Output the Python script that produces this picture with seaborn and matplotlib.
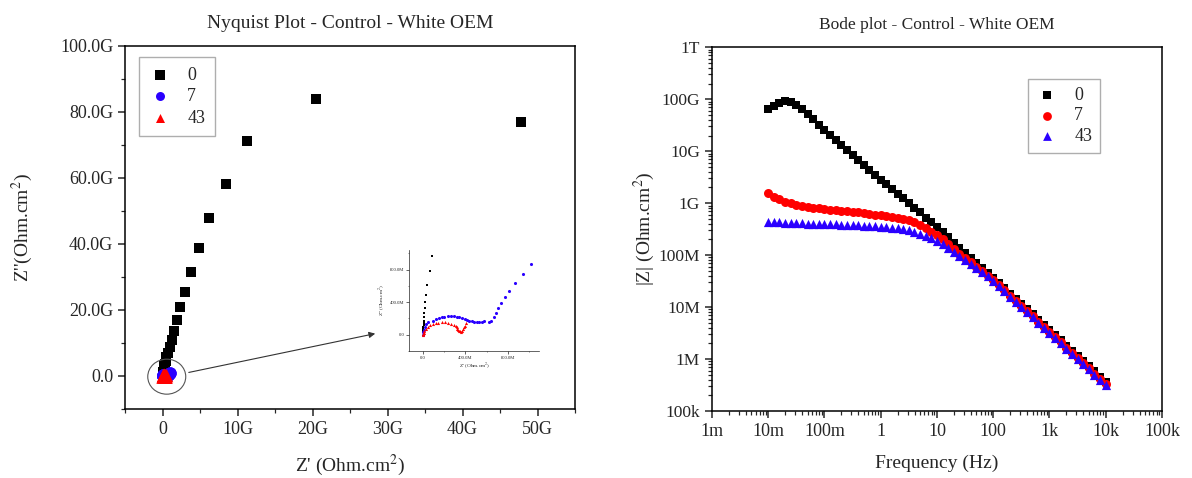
import numpy as np
import pandas as pd
import matplotlib
matplotlib.use("Agg")
import matplotlib.pyplot as plt
import seaborn as sns
from matplotlib.patches import Ellipse
from matplotlib.ticker import MultipleLocator, NullFormatter, LogLocator

sns.set_style("ticks")
plt.rcParams['font.family'] = ['Liberation Serif', 'DejaVu Serif']
plt.rcParams['mathtext.fontset'] = 'stix'

# ---- Nyquist data ----
# day 0 (Ohm, read in G)
nyq0_re = [47.8, 20.4, 11.3, 8.4, 6.2, 4.9, 3.85, 3.0, 2.37, 1.9, 1.52, 1.22, 0.95, 0.67,
           0.50, 0.40, 0.32, 0.26, 0.21, 0.17, 0.13, 0.10, 0.081, 0.069, 0.038, 0.028,
           0.019, 0.015, 0.012, 0.009, 0.006, 0.005, 0.004, 0.003, 0.003, 0.002, 0.002,
           0.0015, 0.001]
nyq0_im = [76.8, 84.0, 71.2, 58.2, 47.7, 38.8, 31.5, 25.5, 20.8, 16.8, 13.5, 10.9, 8.9, 7.1,
           5.7, 4.6, 3.7, 3.0, 2.4, 1.95, 1.55, 1.22, 0.972, 0.784, 0.615, 0.492,
           0.402, 0.324, 0.262, 0.213, 0.172, 0.140, 0.115, 0.095, 0.078, 0.064, 0.052,
           0.042, 0.034]
# day 7 (read in M)
nyq7_re = [0, 3, 8, 15, 28, 50, 91, 120, 147, 175, 201, 233, 265, 296, 320, 343, 372, 400,
           420, 438, 462, 485, 508, 532, 556, 580, 625, 645, 668, 690, 712, 738, 778, 816,
           870, 942, 1024]
nyq7_im = [0, 30, 60, 95, 131, 155, 172, 190, 205, 215, 222, 234, 230, 226, 220, 213, 203, 193,
           182, 172, 165, 160, 157, 156, 158, 164, 162, 172, 213, 267, 328, 390, 468, 538,
           636, 747, 870]
# day 43 (read in M)
nyq43_re = [0, 2, 5, 12, 25, 46, 70, 94, 118, 142, 175, 206, 235, 265, 295, 310, 318, 324,
            330, 337, 346, 356, 366, 375, 385, 394, 403]
nyq43_im = [0, 12, 25, 49, 75, 98, 117, 131, 141, 148, 151, 151, 145, 132, 118, 105, 90, 75,
            60, 49, 40, 37, 50, 70, 90, 111, 144]

# ---- Bode data: log10 f from -2 to 4, 10 points per decade ----
freq = 10 ** (np.arange(61) / 10 - 2)
bode0_log = [10.81, 10.87, 10.93, 10.96, 10.95, 10.89, 10.81, 10.71, 10.61, 10.51, 10.41,
             10.31, 10.22, 10.12, 10.03, 9.93, 9.83, 9.74, 9.64, 9.55, 9.45,
             9.36, 9.27, 9.18, 9.09, 9.00, 8.91, 8.82, 8.72, 8.63, 8.54,
             8.44, 8.34, 8.24, 8.14, 8.04, 7.94, 7.85, 7.75, 7.66, 7.56,
             7.46, 7.36, 7.26, 7.16, 7.06, 6.96, 6.86, 6.76, 6.66, 6.56,
             6.46, 6.36, 6.26, 6.16, 6.06, 5.96, 5.86, 5.76, 5.66, 5.56]
bode7_log = [9.19, 9.12, 9.07, 9.03, 9.00, 8.97, 8.95, 8.93, 8.91, 8.90, 8.88,
             8.87, 8.86, 8.85, 8.84, 8.83, 8.82, 8.81, 8.80, 8.78, 8.77,
             8.75, 8.74, 8.72, 8.70, 8.67, 8.63, 8.58, 8.52, 8.45, 8.38,
             8.30, 8.21, 8.12, 8.03, 7.95, 7.86, 7.78, 7.69, 7.60, 7.52,
             7.42, 7.32, 7.22, 7.12, 7.02, 6.92, 6.82, 6.72, 6.62, 6.52,
             6.42, 6.32, 6.22, 6.12, 6.02, 5.92, 5.82, 5.72, 5.62, 5.52]
bode43_log = [8.64, 8.635, 8.63, 8.625, 8.62, 8.615, 8.61, 8.605, 8.60, 8.60, 8.595,
              8.59, 8.59, 8.585, 8.58, 8.575, 8.57, 8.565, 8.56, 8.555, 8.55,
              8.54, 8.53, 8.52, 8.50, 8.475, 8.45, 8.41, 8.37, 8.33, 8.28,
              8.21, 8.13, 8.06, 7.98, 7.90, 7.83, 7.75, 7.67, 7.59, 7.50,
              7.40, 7.30, 7.20, 7.10, 7.00, 6.90, 6.80, 6.70, 6.60, 6.50,
              6.40, 6.30, 6.20, 6.10, 6.00, 5.90, 5.80, 5.70, 5.60, 5.50]

nyq_xticks = [0, 10e9, 20e9, 30e9, 40e9, 50e9]
nyq_xlabels = ['0', '10G', '20G', '30G', '40G', '50G']
nyq_yticks = [0, 20e9, 40e9, 60e9, 80e9, 100e9]
nyq_ylabels = ['0.0', '20.0G', '40.0G', '60.0G', '80.0G', '100.0G']
ins_ticks = [0, 400e6, 800e6]
ins_labels = ['0.0', '400.0M', '800.0M']
bode_xticks = [1e-3, 1e-2, 1e-1, 1, 10, 100, 1e3, 1e4, 1e5]
bode_xlabels = ['1m', '10m', '100m', '1', '10', '100', '1k', '10k', '100k']
bode_yticks = [1e5, 1e6, 1e7, 1e8, 1e9, 1e10, 1e11, 1e12]
bode_ylabels = ['100k', '1M', '10M', '100M', '1G', '10G', '100G', '1T']

BLUE = '#2a00ff'
RED = '#ff0000'

fig = plt.figure(figsize=(11.92, 4.78), dpi=100)
ax1 = fig.add_axes([0.1049, 0.1444, 0.3775, 0.760])
ax2 = fig.add_axes([0.5973, 0.1402, 0.3775, 0.761])
ins = fig.add_axes([0.3434, 0.2657, 0.1091, 0.2113])


def style_axes(ax, size=13, width=1.1):
    for sp in ax.spines.values():
        sp.set_linewidth(width)
        sp.set_color('black')
    ax.tick_params(which='major', direction='out', length=5, width=width, labelsize=size,
                   top=False, right=False)
    ax.tick_params(which='minor', direction='out', length=3, width=width * 0.8,
                   top=False, right=False)


# ---------------- Nyquist ----------------
sns.scatterplot(x=np.array(nyq0_re) * 1e9, y=np.array(nyq0_im) * 1e9, ax=ax1, marker='s',
                color='black', s=50, linewidth=0, label='0', zorder=3)
sns.scatterplot(x=np.array(nyq7_re) * 1e6, y=np.array(nyq7_im) * 1e6, ax=ax1, marker='o',
                color=BLUE, s=80, linewidth=0, label='7', zorder=4)
sns.scatterplot(x=np.array(nyq43_re) * 1e6, y=np.array(nyq43_im) * 1e6, ax=ax1, marker='^',
                color=RED, s=95, linewidth=0, label='43', zorder=5)
ax1.set_xlim(-5e9, 55e9)
ax1.set_ylim(-10e9, 100e9)
ax1.set_xticks(nyq_xticks, nyq_xlabels)
ax1.set_yticks(nyq_yticks, nyq_ylabels)
ax1.xaxis.set_minor_locator(MultipleLocator(5e9))
ax1.yaxis.set_minor_locator(MultipleLocator(10e9))
style_axes(ax1)
ax1.set_title('Nyquist Plot - Control - White OEM', fontsize=14, pad=13)
ax1.set_xlabel("Z' (Ohm.cm$^2$)", fontsize=14)
ax1.set_ylabel("Z''(Ohm.cm$^2$)", fontsize=14)
ax1.xaxis.set_label_coords(0.5, -0.12)
ax1.yaxis.set_label_coords(-0.20, 0.5)
leg1 = ax1.legend(loc='upper left', bbox_to_anchor=(0.032, 0.97), fontsize=13, frameon=True,
                  fancybox=False, edgecolor='#9a9a9a', borderaxespad=0, handletextpad=0.9,
                  handlelength=1.2, borderpad=0.55, labelspacing=0.25)
leg1.get_frame().set_linewidth(1.0)
for h in leg1.legend_handles:
    h.set_sizes([42])

ax1.add_patch(Ellipse((0.0927, 0.0889), 0.0844, 0.0963, transform=ax1.transAxes,
                      fill=False, edgecolor='#555555', lw=0.8, zorder=6))
ax1.annotate('', xy=(0.562, 0.209), xytext=(0.1356, 0.099), xycoords='axes fraction',
             arrowprops=dict(arrowstyle='-|>', color='#333333', lw=0.8, mutation_scale=9))

# inset
sns.scatterplot(x=np.array(nyq0_re) * 1e9, y=np.array(nyq0_im) * 1e9, ax=ins, marker='s',
                color='black', s=4, linewidth=0, legend=False)
sns.scatterplot(x=np.array(nyq7_re) * 1e6, y=np.array(nyq7_im) * 1e6, ax=ins, marker='o',
                color=BLUE, s=5, linewidth=0, legend=False)
sns.scatterplot(x=np.array(nyq43_re) * 1e6, y=np.array(nyq43_im) * 1e6, ax=ins, marker='^',
                color=RED, s=5, linewidth=0, legend=False)
ins.set_xlim(-130e6, 1.1e9)
ins.set_ylim(-200e6, 1.04e9)
ins.set_xticks(ins_ticks, ins_labels)
ins.set_yticks(ins_ticks, ins_labels)
ins.xaxis.set_minor_locator(MultipleLocator(200e6))
ins.yaxis.set_minor_locator(MultipleLocator(200e6))
ins.spines['top'].set_visible(False)
ins.spines['right'].set_visible(False)
for sp in ins.spines.values():
    sp.set_linewidth(0.5)
ins.tick_params(which='major', length=2, width=0.5, labelsize=3.4, pad=1.5)
ins.tick_params(which='minor', length=1, width=0.4)
ins.set_xlabel("Z' (Ohm.cm$^2$)", fontsize=3.8, labelpad=1.5)
ins.set_ylabel("Z'' (Ohm.cm$^2$)", fontsize=3.8, labelpad=1.5)
ins.patch.set_alpha(0)

# ---------------- Bode ----------------
sns.scatterplot(x=freq, y=10 ** np.array(bode0_log), ax=ax2, marker='s', color='black',
                s=36, linewidth=0, label='0', zorder=3)
sns.scatterplot(x=freq, y=10 ** np.array(bode7_log), ax=ax2, marker='o', color=RED,
                s=42, linewidth=0, label='7', zorder=4)
sns.scatterplot(x=freq, y=10 ** np.array(bode43_log), ax=ax2, marker='^', color=BLUE,
                s=44, linewidth=0, label='43', zorder=5)
ax2.set_xscale('log')
ax2.set_yscale('log')
ax2.set_xlim(1e-3, 1e5)
ax2.set_ylim(1e5, 1e12)
ax2.set_xticks(bode_xticks, bode_xlabels)
ax2.set_yticks(bode_yticks, bode_ylabels)
ax2.xaxis.set_minor_locator(LogLocator(base=10, subs=np.arange(2, 10), numticks=20))
ax2.yaxis.set_minor_locator(LogLocator(base=10, subs=np.arange(2, 10), numticks=20))
ax2.xaxis.set_minor_formatter(NullFormatter())
ax2.yaxis.set_minor_formatter(NullFormatter())
style_axes(ax2)
ax2.tick_params(axis='y', which='major', labelsize=12.5)
ax2.set_title('Bode plot - Control - White OEM', fontsize=12.5, pad=13)
ax2.set_xlabel('Frequency (Hz)', fontsize=14)
ax2.set_ylabel('|Z| (Ohm.cm$^2$)', fontsize=14)
ax2.xaxis.set_label_coords(0.5, -0.12)
ax2.yaxis.set_label_coords(-0.122, 0.5)
leg2 = ax2.legend(loc='upper left', bbox_to_anchor=(0.703, 0.914), fontsize=13, frameon=True,
                  fancybox=False, edgecolor='#9a9a9a', borderaxespad=0, handletextpad=0.9,
                  handlelength=1.2, borderpad=0.45, labelspacing=0.2)
leg2.get_frame().set_linewidth(1.0)
for h in leg2.legend_handles:
    h.set_sizes([40])

fig.savefig('out.png', dpi=100)
